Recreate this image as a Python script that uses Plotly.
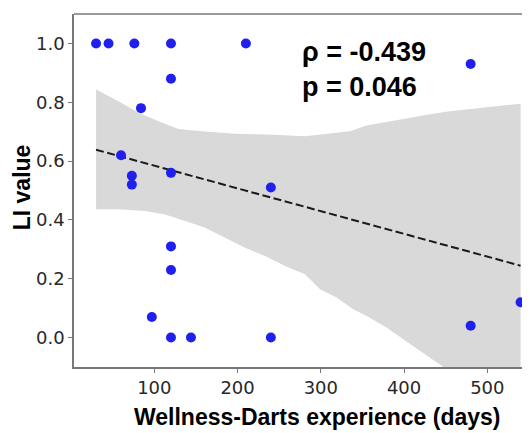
import numpy as np
import plotly.graph_objects as go

# ---- data ----
days = [30, 45, 76, 120, 210, 120, 84, 60, 73, 73, 120, 240, 120, 120, 97, 120, 144, 240, 480, 480, 540]
li_value = [1.0, 1.0, 1.0, 1.0, 1.0, 0.88, 0.78, 0.62, 0.55, 0.52, 0.56, 0.51, 0.31, 0.23, 0.07, 0.0, 0.0, 0.0, 0.93, 0.04, 0.12]

# confidence band edges
band_upper_x = [30, 57, 81, 105, 129, 157, 197, 237, 281, 315, 335, 355, 395, 435, 455, 495, 540]
band_upper_y = [0.843, 0.803, 0.764, 0.735, 0.709, 0.701, 0.693, 0.690, 0.684, 0.696, 0.701, 0.721, 0.742, 0.761, 0.769, 0.781, 0.795]
band_lower_x = [30, 57, 89, 113, 137, 161, 185, 209, 233, 257, 281, 299, 319, 339, 355, 379, 399, 419, 439, 460, 500, 540]
band_lower_y = [0.436, 0.436, 0.430, 0.418, 0.396, 0.373, 0.339, 0.305, 0.277, 0.243, 0.215, 0.164, 0.136, 0.096, 0.073, 0.034, -0.006, -0.045, -0.085, -0.125, -0.20, -0.28]

x_ticks = [100, 200, 300, 400, 500]
y_ticks = [0.0, 0.2, 0.4, 0.6, 0.8, 1.0]
y_tick_labels = ["0.0", "0.2", "0.4", "0.6", "0.8", "1.0"]
stats_text = "ρ = -0.439<br>p = 0.046"

# regression line (OLS fit of the data)
slope, intercept = np.polyfit(days, li_value, 1)
fit_x = [min(days), max(days)]
fit_y = [intercept + slope * v for v in fit_x]

fig = go.Figure()

fig.add_trace(go.Scatter(
    x=band_upper_x + band_lower_x[::-1],
    y=band_upper_y + band_lower_y[::-1],
    fill="toself", fillcolor="rgb(217,217,217)",
    line=dict(width=0), mode="lines", hoverinfo="skip", showlegend=False))

fig.add_trace(go.Scatter(
    x=fit_x, y=fit_y, mode="lines",
    line=dict(color="#1a1a1a", width=2, dash="8px,3.5px"),
    showlegend=False))

fig.add_trace(go.Scatter(
    x=days, y=li_value, mode="markers",
    marker=dict(color="rgb(32,32,238)", size=10, line=dict(width=0)),
    cliponaxis=False, showlegend=False))

axis_color = "rgb(120,120,120)"
tick_font = dict(family="DejaVu Sans", size=18, color="rgb(40,40,40)")

fig.update_xaxes(
    range=[3.5, 551.3], tickvals=x_ticks, showgrid=False, zeroline=False,
    showline=True, linecolor=axis_color, linewidth=1.5,
    ticks="outside", ticklen=4, tickwidth=1.2, tickcolor=axis_color,
    tickfont=tick_font)
fig.update_yaxes(
    range=[-0.1, 1.1], tickvals=y_ticks, ticktext=y_tick_labels,
    showgrid=False, zeroline=False,
    showline=True, linecolor=axis_color, linewidth=1.5,
    ticks="outside", ticklen=4, tickwidth=1.2, tickcolor=axis_color,
    tickfont=tick_font)

fig.add_shape(type="line", xref="paper", yref="paper", x0=0, x1=1, y0=1, y1=1,
              line=dict(color=axis_color, width=1.5))

bold_font = dict(family="Liberation Sans", size=23, color="black")
fig.add_annotation(text="<b>Wellness-Darts experience (days)</b>", xref="paper", yref="paper",
                   x=(316.7 - 74) / 456, y=-(418 - 367.5) / 353.5,
                   xanchor="center", yanchor="middle", showarrow=False, font=bold_font)
fig.add_annotation(text="<b>LI value</b>", xref="paper", yref="paper",
                   x=-(74 - 22) / 456, y=(367.5 - 187.5) / 353.5, textangle=-90,
                   xanchor="center", yanchor="middle", showarrow=False, font=bold_font)
fig.add_annotation(text="<b>" + stats_text + "</b>", x=275, y=0.911, xref="x", yref="y",
                   xanchor="left", yanchor="middle", align="left", showarrow=False,
                   font=dict(family="Liberation Sans", size=27, color="black"))

# page body has an 8px margin, so the figure is drawn 8px in from the top-left
fig.update_layout(
    width=522, height=425,
    margin=dict(l=66, r=0, t=6, b=65.5),
    plot_bgcolor="white", paper_bgcolor="white")

fig.write_html("out.html")
